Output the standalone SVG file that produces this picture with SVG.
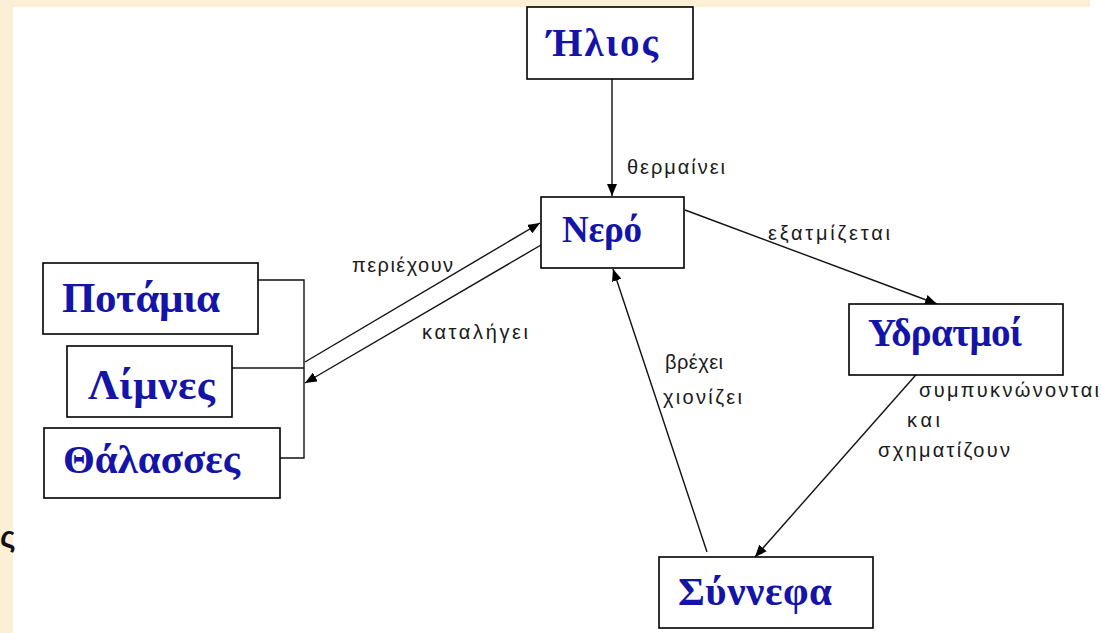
<svg xmlns="http://www.w3.org/2000/svg" width="1101" height="633" viewBox="0 0 1101 633">
<defs>
<marker id="ah" markerUnits="userSpaceOnUse" markerWidth="12" markerHeight="10" refX="12" refY="5" orient="auto">
<path d="M0,0 L12,5 L0,10 Z" fill="#000"/>
</marker>
<style>
.box{fill:#fff;stroke:#000;stroke-width:1.6}
.nt{font-family:"Liberation Serif","Times New Roman",serif;font-weight:bold;fill:#1414a8}
.lbl{font-family:"Liberation Sans",Arial,sans-serif;font-size:20px;fill:#1a1a1a}
.ln{stroke:#111;stroke-width:1.4;fill:none}
</style>
</defs>
<rect x="0" y="0" width="1101" height="633" fill="#fff"/>
<rect x="0" y="0" width="1090" height="7" fill="#fbefd6"/>
<rect x="0" y="0" width="13" height="633" fill="#fbefd6"/>
<text x="0" y="547" font-family="Liberation Sans,sans-serif" font-size="30" font-weight="bold" fill="#111">ς</text>

<g id="connectors">
<line class="ln" x1="612" y1="79" x2="612" y2="196" marker-end="url(#ah)"/>
<polyline class="ln" points="258,280 304,280 304,458 280,458"/>
<line class="ln" x1="232" y1="368" x2="304" y2="368"/>
<line class="ln" x1="305" y1="362" x2="540" y2="223" marker-end="url(#ah)"/>
<line class="ln" x1="541" y1="245" x2="305" y2="383" marker-end="url(#ah)"/>
<line class="ln" x1="685" y1="210" x2="937" y2="304" marker-end="url(#ah)"/>
<line class="ln" x1="922" y1="368" x2="755" y2="557" marker-end="url(#ah)"/>
<line class="ln" x1="707" y1="552" x2="613" y2="269" marker-end="url(#ah)"/>
<text class="lbl" x="627" y="174" textLength="98">θερμαίνει</text>
<text class="lbl" x="352" y="272" textLength="101">περιέχουν</text>
<text class="lbl" x="422" y="339" textLength="106">καταλήγει</text>
<text class="lbl" x="768" y="240" textLength="122">εξατμίζεται</text>
<text class="lbl" x="665" y="369" textLength="58">βρέχει</text>
<text class="lbl" x="663" y="404" textLength="79">χιονίζει</text>
<text class="lbl" x="919" y="397" textLength="180">συμπυκνώνονται</text>
<text class="lbl" x="907" y="427" textLength="33">και</text>
<text class="lbl" x="878" y="457" textLength="132">σχηματίζουν</text>
</g>

<g id="n-ilios">
<rect class="box" x="527" y="7" width="166" height="72"/>
<text class="nt" x="547" y="56" font-size="39" textLength="111">Ήλιος</text>
</g>
<g id="n-nero">
<rect class="box" x="541" y="197" width="143" height="71"/>
<text class="nt" x="562" y="242" font-size="37" textLength="80">Νερό</text>
</g>
<g id="n-potamia">
<rect class="box" x="43" y="263" width="215" height="71"/>
<text class="nt" x="62" y="312" font-size="43" textLength="158">Ποτάμια</text>
</g>
<g id="n-limnes">
<rect class="box" x="67" y="346" width="165" height="71"/>
<text class="nt" x="88" y="399" font-size="43" textLength="127">Λίμνες</text>
</g>
<g id="n-thalasses">
<rect class="box" x="44" y="428" width="236" height="70"/>
<text class="nt" x="63" y="473" font-size="41" textLength="177">Θάλασσες</text>
</g>
<g id="n-ydratmoi">
<rect class="box" x="849" y="304" width="214" height="71"/>
<text class="nt" x="868" y="346" font-size="39" textLength="154">Υδρατμοί</text>
</g>
<g id="n-synnefa">
<rect class="box" x="659" y="557" width="214" height="71"/>
<text class="nt" x="678" y="605" font-size="41" textLength="154">Σύννεφα</text>
</g>
</svg>
